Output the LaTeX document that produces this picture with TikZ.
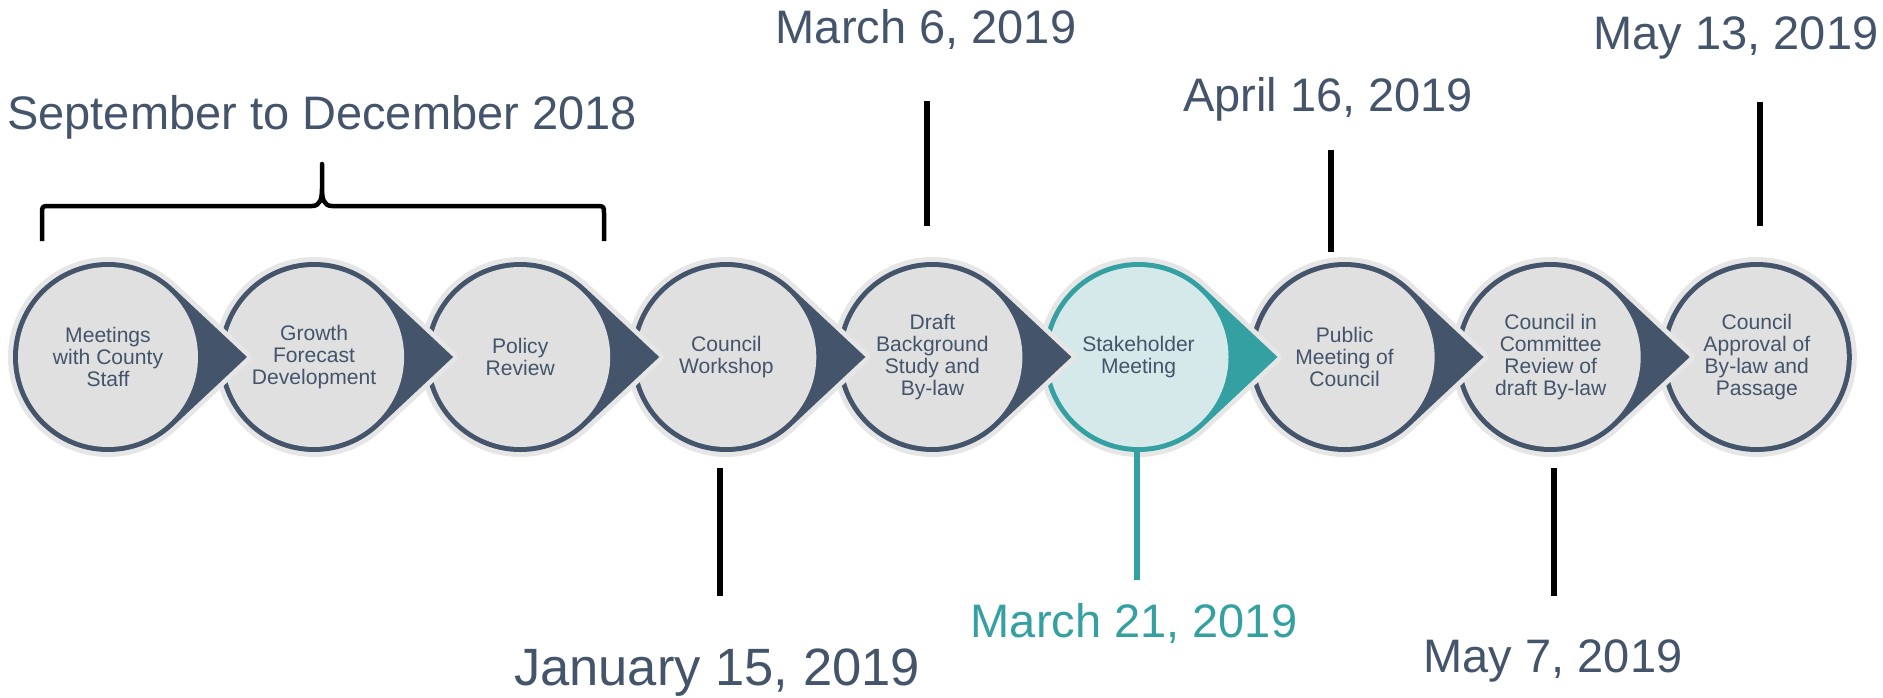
\documentclass[tikz,border=0pt]{standalone}
\usepackage{fontspec}
\setmainfont{Liberation Sans}
\usetikzlibrary{calc}
\definecolor{slate}{RGB}{68,84,106}
\definecolor{tealc}{RGB}{52,160,162}
\definecolor{halogray}{RGB}{230,230,230}
\definecolor{dotgray}{RGB}{224,224,224}
\definecolor{dotteal}{RGB}{214,233,234}
\tikzset{
  stage/.style={circle, minimum size=3.8cm, inner sep=0pt, align=center, text=slate, font=\fontsize{12}{12.6}\selectfont},
  datelbl/.style={anchor=base, text=slate, font=\fontsize{26.75}{32}\selectfont},
  tick/.style={line width=0.12cm},
  brace/.style={line width=0.09cm, line join=round, line cap=butt}
}
\begin{document}
\begin{tikzpicture}[x=0.02cm, y=-0.02cm]
	\useasboundingbox (0,0) rectangle (1883,697);
	\def\R{95}
	\def\T{139}
	\def\A{46.87}
	% drop shapes, right to left so each tip lies over the next circle
	\foreach \i in {9,8,...,1}{
		\pgfmathsetmacro\cx{108+206.1*(\i-1)}
		\ifnum\i=6 \colorlet{ringc}{tealc}\colorlet{innerc}{dotteal}\else\colorlet{ringc}{slate}\colorlet{innerc}{dotgray}\fi
		\ifnum\i=9
			\fill[halogray] (\cx,357) circle[radius=100];
			\fill[ringc] (\cx,357) circle[radius=\R];
		\else
			\draw[halogray, line width=0.2cm, line join=round] (\cx+\T,357) -- ($(\cx,357)+(-\A:\R)$) arc[start angle=-\A, end angle=-360+\A, radius=\R] -- cycle;
			\fill[ringc] (\cx+\T,357) -- ($(\cx,357)+(-\A:\R)$) arc[start angle=-\A, end angle=-360+\A, radius=\R] -- cycle;
		\fi
		\fill[innerc] (\cx,357) circle[radius=90];
	}
	% stage texts
	\foreach \i/\txt in {1/{Meetings\\with County\\Staff}, 2/{Growth\\Forecast\\Development}, 3/{Policy\\Review}, 4/{Council\\Workshop}, 5/{Draft\\Background\\Study and\\By-law}, 6/{Stakeholder\\Meeting}, 7/{Public\\Meeting of\\Council}, 8/{Council in\\Committee\\Review of\\draft By-law}, 9/{Council\\Approval of\\By-law and\\Passage}}
		\node[stage] (s\i) at ({108+206.1*(\i-1)},357) {\txt};
	% dates above
	\node[datelbl] (sepdec) at (322,129) {September to December 2018};
	\node[datelbl] (mar6) at (926,43) {March 6, 2019};
	\node[datelbl] (apr16) at (1328,111) {April 16, 2019};
	\node[datelbl] (may13) at (1736,49) {May 13, 2019};
	% dates below
	\node[datelbl, font=\fontsize{29.9}{34}\selectfont] (jan15) at (717,685) {January 15, 2019};
	\node[datelbl, text=tealc] (mar21) at (1134,637) {March 21, 2019};
	\node[datelbl] (may7) at (1553,672) {May 7, 2019};
	% ticks
	\draw[tick] ($(s5.north)+(-5,-36)$) -- ++(0,-125);
	\draw[tick] ($(s7.north)+(-13.6,-10)$) -- ++(0,-102);
	\draw[tick] ($(s9.north)+(3,-36)$) -- ++(0,-124);
	\draw[tick] ($(s4.south)+(-6,16)$) -- ++(0,128);
	\draw[tick, tealc] ($(s6.south)+(-1.5,0)$) -- ++(0,128);
	\draw[tick] ($(s8.south)+(3.3,16)$) -- ++(0,128);
	% brace
	\draw[brace] (42,241) -- (42,214) .. controls (42,206) .. (50,206) -- (312,206) .. controls (320,206) and (322,199) .. (322,189) -- (322,164) -- (322,189) .. controls (322,199) and (324,206) .. (332,206) -- (596,206) .. controls (604,206) .. (604,214) -- (604,241);
\end{tikzpicture}
\end{document}
